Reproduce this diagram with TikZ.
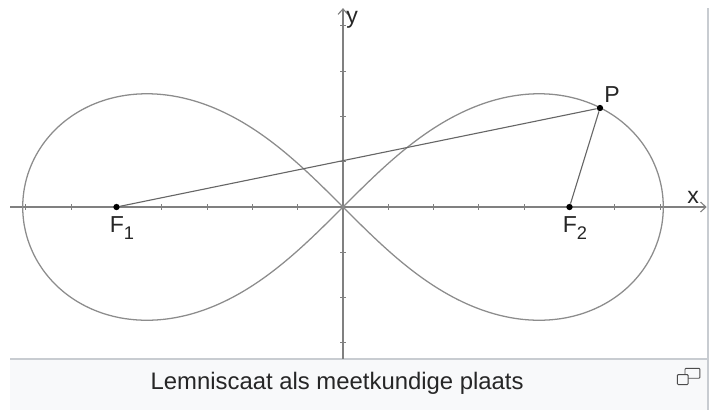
\documentclass[tikz,border=0pt]{standalone}
\usepackage{fontspec}
\setmainfont{Liberation Sans}
\usetikzlibrary{positioning,arrows.meta}
\definecolor{captionbg}{HTML}{F8F9FA}
\definecolor{framegray}{HTML}{C8CCD1}
\newcommand{\lowsub}[1]{\raisebox{-0.55ex}{\fontsize{11.5}{11.5}\selectfont #1}}

\begin{document}
\begin{tikzpicture}[>={Straight Barb[length=1.2mm,width=2.2mm]},
    axis/.style={draw=black!50, line width=0.7pt},
    curve/.style={draw=black!45, line width=0.8pt},
    seg/.style={draw=black!60, line width=0.7pt},
    frame/.style={draw=framegray, line width=0.8pt},
    dot/.style={circle, fill=black, inner sep=0pt, minimum size=1.4mm},
    lbl/.style={font=\fontsize{14.5}{16}\selectfont, text=black!85, inner sep=1pt}]
  \useasboundingbox (-7.572,-4.481) rectangle (8.212,4.570);
  % caption band
  \fill[captionbg] (-7.351,-3.355) rectangle (8.057,-4.481);
  \draw[frame] (-7.351,-3.355) -- (8.057,-3.355);
  \draw[frame] (8.057,4.393) -- (8.057,-4.481);
  % axes
  \draw[axis,->] (-7.35,0) -- (8.03,0);
  \draw[axis,->] (0,-3.355) -- (0,4.39);
  \foreach \i in {-7,...,-1,1,2,...,7}
    \draw[axis] (\i,0.06) -- (\i,-0.06);
  \foreach \j in {-3,-2,-1,1,2,3,4}
    \draw[axis] (-0.06,\j) -- (0.06,\j);
  \node (xlab) [lbl] at (7.73,0.22) {x};
  \node (ylab) [lbl, anchor=north west] at (0.03,4.37) {y};
  % lemniscate
  \draw[curve] plot[domain=0:360, samples=241, smooth, variable=\t]
    ({7.0711*cos(\t)/(1+sin(\t)^2)}, {7.0711*sin(\t)*cos(\t)/(1+sin(\t)^2)});
  % foci and point
  \node (F1) [dot] at (-5,0) {};
  \node (F2) [dot] at (5,0) {};
  \node (P)  [dot] at (5.673,2.185) {};
  \draw[seg] (F1) -- (P) -- (F2);
  \node (f1lab) [lbl, below=0.1cm of F1, xshift=0.12cm] {F\lowsub{1}};
  \node (f2lab) [lbl, below=0.1cm of F2, xshift=0.12cm] {F\lowsub{2}};
  \node (plab)  [lbl, above right=0.02cm and 0.0cm of P] {P};
  % caption
  \node (cap) [font=\fontsize{15}{18}\selectfont, text=black!85] at (-0.13,-3.885)
    {Lemniscaat als meetkundige plaats};
  \draw[black!70, line width=0.6pt, rounded corners=0.6pt]
    (7.55,-3.56) rectangle (7.88,-3.78);
  \draw[black!70, fill=captionbg, line width=0.6pt, rounded corners=0.6pt]
    (7.38,-3.70) rectangle (7.62,-3.92);
\end{tikzpicture}
\end{document}
